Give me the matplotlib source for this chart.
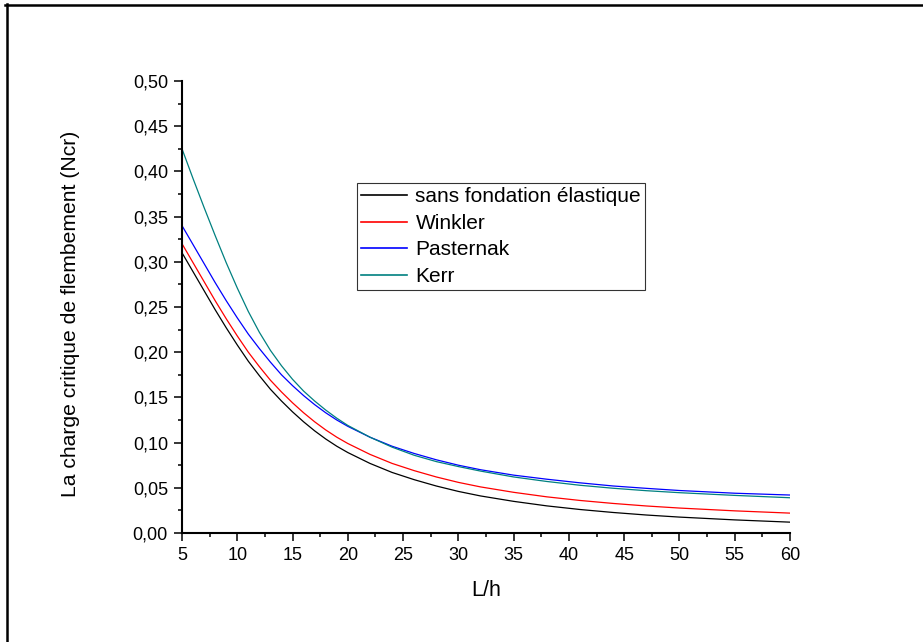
import matplotlib
matplotlib.use("Agg")
import matplotlib.pyplot as plt
from matplotlib.ticker import MultipleLocator, FuncFormatter
from matplotlib.lines import Line2D

plt.rcParams['font.family'] = ['Liberation Sans', 'DejaVu Sans']

# Slenderness ratio L/h
lh = [5, 6, 7, 8, 9, 10, 11, 12, 13, 14, 15, 16, 17, 18, 19, 20,
      22, 24, 26, 28, 30, 32, 35, 38, 41, 44, 47, 50, 55, 60]

# Critical buckling load for each foundation model
ncr_sans = [0.310, 0.289, 0.268, 0.247, 0.227, 0.208, 0.190, 0.174, 0.159, 0.146,
            0.134, 0.123, 0.113, 0.104, 0.096, 0.089, 0.077, 0.067, 0.059, 0.052,
            0.046, 0.041, 0.035, 0.030, 0.026, 0.0227, 0.0199, 0.0176, 0.0145, 0.012]
ncr_winkler = [0.320, 0.299, 0.278, 0.257, 0.237, 0.218, 0.200, 0.184, 0.169, 0.156,
               0.144, 0.133, 0.123, 0.114, 0.106, 0.099, 0.087, 0.077, 0.069, 0.062,
               0.056, 0.051, 0.045, 0.040, 0.036, 0.0327, 0.0299, 0.0276, 0.0245, 0.022]
ncr_pasternak = [0.340, 0.319, 0.298, 0.277, 0.257, 0.238, 0.220, 0.204, 0.189, 0.175,
                 0.163, 0.152, 0.142, 0.133, 0.125, 0.118, 0.106, 0.096, 0.088, 0.081,
                 0.075, 0.070, 0.064, 0.0595, 0.0555, 0.052, 0.0494, 0.047, 0.044, 0.042]
ncr_kerr = [0.425, 0.392, 0.360, 0.329, 0.299, 0.271, 0.245, 0.222, 0.202, 0.185,
            0.170, 0.157, 0.146, 0.136, 0.127, 0.119, 0.106, 0.095, 0.086, 0.079,
            0.0735, 0.0685, 0.062, 0.057, 0.0528, 0.0495, 0.0468, 0.0446, 0.0416, 0.039]

series_labels = ["sans fondation élastique", "Winkler", "Pasternak", "Kerr"]
series_colors = ["#000000", "#ff0000", "#0000ff", "#008080"]

W, H = 923, 642
fig = plt.figure(figsize=(W / 100, H / 100), dpi=100)
ax = fig.add_axes([182 / W, 1 - 533 / H, 608 / W, 452 / H])

for vals, lab, col in zip([ncr_sans, ncr_winkler, ncr_pasternak, ncr_kerr],
                          series_labels, series_colors):
    ax.plot(lh, vals, color=col, lw=0.9, label=lab)

ax.set_xlim(5, 60)
ax.set_ylim(0, 0.5)
ax.xaxis.set_major_locator(MultipleLocator(5))
ax.xaxis.set_minor_locator(MultipleLocator(2.5))
ax.yaxis.set_major_locator(MultipleLocator(0.05))
ax.yaxis.set_minor_locator(MultipleLocator(0.025))
ax.yaxis.set_major_formatter(FuncFormatter(lambda v, p: f"{v:.2f}".replace('.', ',')))
ax.xaxis.set_major_formatter(FuncFormatter(lambda v, p: f"{v:.0f}"))

for s in ['top', 'right']:
    ax.spines[s].set_visible(False)
for s in ['left', 'bottom']:
    ax.spines[s].set_linewidth(1.5)

ax.tick_params(which='major', direction='out', length=5.8, width=1.1,
               labelsize=13, pad=4.3)
ax.tick_params(which='minor', direction='out', length=2.9, width=1.1)

ax.set_xlabel("L/h", fontsize=15.5)
ax.set_ylabel("La charge critique de flembement (Ncr)", fontsize=15.2)
ax.xaxis.set_label_coords(0.5, (533 - 580) / 452)
ax.yaxis.set_label_coords((80 - 182) / 608, (533 - 314) / 452)

leg = ax.legend(loc='upper left', bbox_to_anchor=(0.288, 0.774), fontsize=15,
                frameon=True, fancybox=False, shadow=False, borderpad=0.2,
                labelspacing=0.36, handlelength=2.2, handletextpad=0.4,
                borderaxespad=0)
leg.get_frame().set_edgecolor('black')
leg.get_frame().set_linewidth(0.8)
for h in leg.get_lines():
    h.set_linewidth(1.2)

# Page frame along top and left edges
fig.add_artist(Line2D([6.5 / W, 6.5 / W], [0, 1 - 4 / H], transform=fig.transFigure,
                      color='black', lw=1.8))
fig.add_artist(Line2D([5 / W, 1], [1 - 5 / H, 1 - 5 / H], transform=fig.transFigure,
                      color='black', lw=1.8))

fig.savefig("out.png", dpi=100)
